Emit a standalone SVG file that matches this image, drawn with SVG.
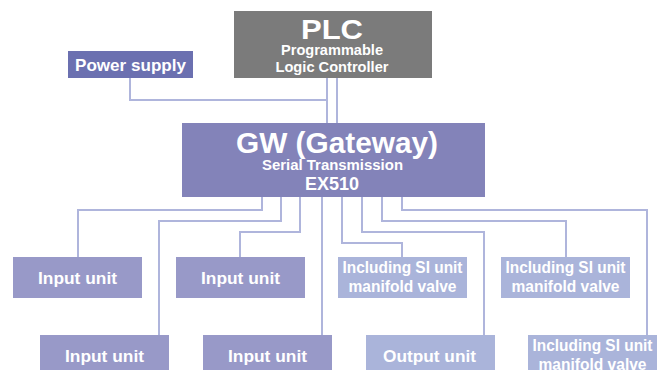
<svg xmlns="http://www.w3.org/2000/svg" width="668" height="370" viewBox="0 0 668 370">
<style>
.t{font-family:"Liberation Sans",Arial,sans-serif;font-weight:bold;fill:#ffffff;text-anchor:middle}
.c{fill:none;stroke:#afb5dc;stroke-width:2}
.in{fill:#9899c8}
.si{fill:#aab4da}
</style>
<rect width="668" height="370" fill="#ffffff"/>
<g id="connectors">
<polyline class="c" points="130,78 130,100 327,100"/>
<polyline class="c" points="327,78 327,123"/>
<polyline class="c" points="337,78 337,123"/>
<polyline class="c" points="262,197 262,210 78,210 78,257"/>
<polyline class="c" points="281,197 281,221 159,221 159,335"/>
<polyline class="c" points="300,197 300,232 240,232 240,257"/>
<polyline class="c" points="322,197 322,335"/>
<polyline class="c" points="342,197 342,243 402,243 402,257"/>
<polyline class="c" points="362,197 362,232 484,232 484,335"/>
<polyline class="c" points="382,197 382,221 566,221 566,257"/>
<polyline class="c" points="402,197 402,210 647,210 647,335"/>
</g>
<g id="plc">
<rect x="234" y="11" width="198" height="67" fill="#7b7b7b"/>
<text class="t" x="332" y="39" font-size="28" textLength="62" lengthAdjust="spacingAndGlyphs">PLC</text>
<text class="t" x="332" y="55" font-size="14" textLength="102" lengthAdjust="spacingAndGlyphs">Programmable</text>
<text class="t" x="332" y="72" font-size="14" textLength="113" lengthAdjust="spacingAndGlyphs">Logic Controller</text>
</g>
<g id="power">
<rect x="68" y="51" width="125" height="27" fill="#6b70b0"/>
<text class="t" x="130.5" y="71" font-size="16.5" textLength="111" lengthAdjust="spacingAndGlyphs">Power supply</text>
</g>
<g id="gw">
<rect x="182" y="123" width="303" height="74" fill="#8383b9"/>
<text class="t" x="337" y="153" font-size="29" textLength="202" lengthAdjust="spacingAndGlyphs">GW (Gateway)</text>
<text class="t" x="332.5" y="170" font-size="14.5" textLength="141" lengthAdjust="spacingAndGlyphs">Serial Transmission</text>
<text class="t" x="332" y="190" font-size="17.5" textLength="54" lengthAdjust="spacingAndGlyphs">EX510</text>
</g>
<g id="in1">
<rect class="in" x="13" y="257" width="129" height="41"/>
<text class="t" x="77.5" y="284" font-size="17" textLength="79" lengthAdjust="spacingAndGlyphs">Input unit</text>
</g>
<g id="in2">
<rect class="in" x="176" y="257" width="129" height="41"/>
<text class="t" x="240.5" y="284" font-size="17" textLength="79" lengthAdjust="spacingAndGlyphs">Input unit</text>
</g>
<g id="si1">
<rect class="si" x="338" y="257" width="129" height="41"/>
<text class="t" x="402.5" y="273" font-size="16" textLength="120" lengthAdjust="spacingAndGlyphs">Including SI unit</text>
<text class="t" x="402.5" y="292" font-size="16" textLength="108" lengthAdjust="spacingAndGlyphs">manifold valve</text>
</g>
<g id="si2">
<rect class="si" x="501" y="257" width="129" height="41"/>
<text class="t" x="565.5" y="273" font-size="16" textLength="120" lengthAdjust="spacingAndGlyphs">Including SI unit</text>
<text class="t" x="565.5" y="292" font-size="16" textLength="108" lengthAdjust="spacingAndGlyphs">manifold valve</text>
</g>
<g id="in3">
<rect class="in" x="40" y="335" width="129" height="41"/>
<text class="t" x="104.5" y="362" font-size="17" textLength="79" lengthAdjust="spacingAndGlyphs">Input unit</text>
</g>
<g id="in4">
<rect class="in" x="203" y="335" width="129" height="41"/>
<text class="t" x="267.5" y="362" font-size="17" textLength="79" lengthAdjust="spacingAndGlyphs">Input unit</text>
</g>
<g id="out">
<rect class="si" x="366" y="335" width="129" height="41"/>
<text class="t" x="429.5" y="362" font-size="17" textLength="93" lengthAdjust="spacingAndGlyphs">Output unit</text>
</g>
<g id="si3">
<rect class="si" x="528" y="335" width="129" height="41"/>
<text class="t" x="592.5" y="351" font-size="16" textLength="120" lengthAdjust="spacingAndGlyphs">Including SI unit</text>
<text class="t" x="592.5" y="370" font-size="16" textLength="108" lengthAdjust="spacingAndGlyphs">manifold valve</text>
</g>
</svg>
